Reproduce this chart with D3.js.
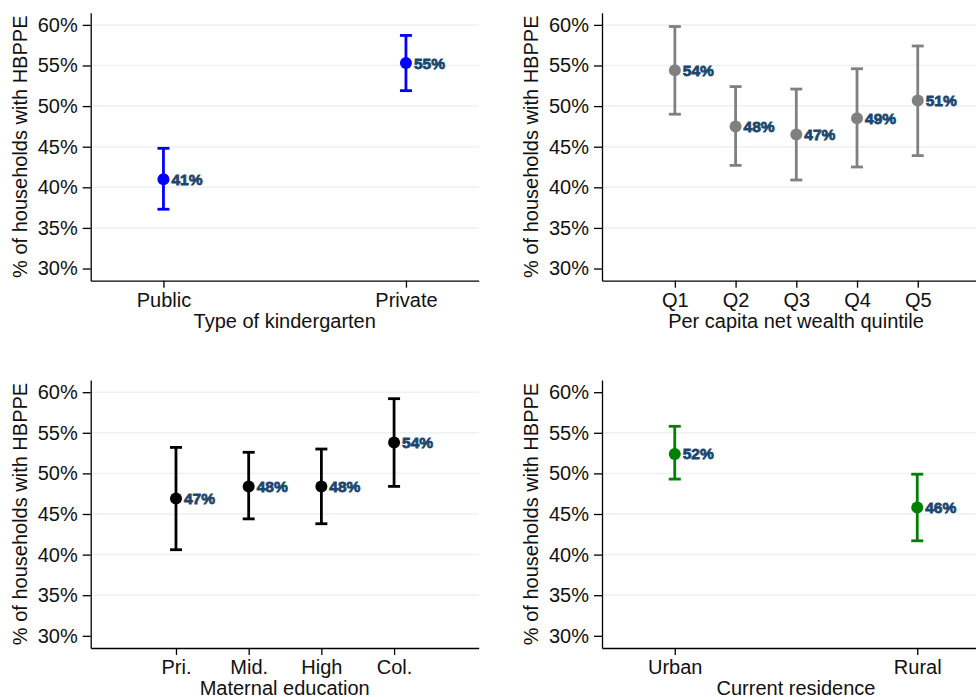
<!DOCTYPE html>
<html>
<head>
<meta charset="utf-8">
<script src="https://cdn.jsdelivr.net/npm/d3@7"></script>
<style>
  body { margin: 0; background: #fff; }
  svg { display: block; font-family: "Liberation Sans", Arial, sans-serif; }
</style>
</head>
<body>
<svg id="chart" width="976" height="697"></svg>
<script>
// data
const yTicks = [30, 35, 40, 45, 50, 55, 60];

const kgCats = ['Public', 'Private'];
const kgMean = [41.0, 55.3];
const kgLo = [37.3, 51.9];
const kgHi = [44.8, 58.7];

const wealthCats = ['Q1', 'Q2', 'Q3', 'Q4', 'Q5'];
const wealthMean = [54.4, 47.5, 46.5, 48.5, 50.7];
const wealthLo = [49.0, 42.7, 40.9, 42.5, 43.9];
const wealthHi = [59.8, 52.4, 52.1, 54.6, 57.4];

const eduCats = ['Pri.', 'Mid.', 'High', 'Col.'];
const eduMean = [46.9, 48.4, 48.4, 53.8];
const eduLo = [40.6, 44.4, 43.8, 48.4];
const eduHi = [53.2, 52.6, 53.0, 59.2];

const resCats = ['Urban', 'Rural'];
const resMean = [52.4, 45.8];
const resLo = [49.3, 41.7];
const resHi = [55.8, 49.9];

// layout
const W = 388, H = 268;
const labelColor = '#1a476f';
const fontSize = 20;

const panels = [
  { x: 90.7, y: 12.7, cats: kgCats, mean: kgMean, lo: kgLo, hi: kgHi, color: '#0000ff',
    xDomain: [0.7, 2.3], title: 'Type of kindergarten', grid: [35, 40, 45, 50, 55, 60] },
  { x: 602, y: 12.7, cats: wealthCats, mean: wealthMean, lo: wealthLo, hi: wealthHi, color: '#808080',
    xDomain: [-0.2, 6.19], title: 'Per capita net wealth quintile', grid: [35, 40, 45, 50, 55, 60] },
  { x: 90.7, y: 380, cats: eduCats, mean: eduMean, lo: eduLo, hi: eduHi, color: '#000000',
    xDomain: [-0.173, 5.164], title: 'Maternal education', grid: [35, 40, 45, 50, 55, 60] },
  { x: 602, y: 380, cats: resCats, mean: resMean, lo: resLo, hi: resHi, color: '#008000',
    xDomain: [0.7, 2.3], title: 'Current residence', grid: [35, 40, 45, 50, 55] }
];

const svg = d3.select('#chart');

panels.forEach(function (p) {
  const g = svg.append('g').attr('transform', 'translate(' + p.x + ',' + p.y + ')');

  const x = d3.scaleLinear().domain(p.xDomain).range([0, W]);
  const y = d3.scaleLinear().domain([28.5, 61.5]).range([H, 0]);

  // gridlines
  g.selectAll('line.grid')
    .data(p.grid)
    .enter()
    .append('line')
    .attr('class', 'grid')
    .attr('x1', 1).attr('x2', W)
    .attr('y1', d => y(d)).attr('y2', d => y(d))
    .attr('stroke', '#eaf2f3')
    .attr('stroke-width', 1.5);

  // y axis
  const yAxis = g.append('g')
    .call(d3.axisLeft(y).tickValues(yTicks).tickFormat(d => d + '%').tickSize(8).tickSizeOuter(0).tickPadding(5));
  // x axis
  const idx = p.cats.map((c, i) => i + 1);
  const xAxis = g.append('g')
    .attr('transform', 'translate(0,' + H + ')')
    .call(d3.axisBottom(x).tickValues(idx).tickFormat((d, i) => p.cats[i]).tickSize(7).tickSizeOuter(0).tickPadding(5));

  [yAxis, xAxis].forEach(function (a) {
    a.select('.domain').attr('stroke', '#000').attr('stroke-width', 1.3);
    a.selectAll('.tick line').attr('stroke', '#000').attr('stroke-width', 1.3);
    a.selectAll('.tick text')
      .attr('font-size', fontSize)
      .attr('font-family', '"Liberation Sans", Arial, sans-serif')
      .attr('fill', '#111');
  });

  // axis titles
  g.append('text')
    .attr('transform', 'translate(' + (-70.7) + ',' + H / 2 + ') rotate(-90)')
    .attr('text-anchor', 'middle')
    .attr('dy', '0.35em')
    .attr('font-size', fontSize)
    .attr('fill', '#111')
    .text('% of households with HBPPE');

  g.append('text')
    .attr('x', W / 2)
    .attr('y', H + 47)
    .attr('text-anchor', 'middle')
    .attr('font-size', fontSize)
    .attr('fill', '#111')
    .text(p.title);

  const pts = p.cats.map((c, i) => ({ i: i + 1, m: p.mean[i], lo: p.lo[i], hi: p.hi[i] }));

  // error bars
  g.selectAll('line.bar')
    .data(pts)
    .enter()
    .append('line')
    .attr('x1', d => x(d.i)).attr('x2', d => x(d.i))
    .attr('y1', d => y(d.lo)).attr('y2', d => y(d.hi))
    .attr('stroke', p.color)
    .attr('stroke-width', 2.8);

  ['lo', 'hi'].forEach(function (k) {
    g.selectAll('line.cap' + k)
      .data(pts)
      .enter()
      .append('line')
      .attr('x1', d => x(d.i) - 6).attr('x2', d => x(d.i) + 6)
      .attr('y1', d => y(d[k])).attr('y2', d => y(d[k]))
      .attr('stroke', p.color)
      .attr('stroke-width', 2.8);
  });

  // markers
  g.selectAll('circle')
    .data(pts)
    .enter()
    .append('circle')
    .attr('cx', d => x(d.i))
    .attr('cy', d => y(d.m))
    .attr('r', 6)
    .attr('fill', p.color);

  // value labels
  g.selectAll('text.val')
    .data(pts)
    .enter()
    .append('text')
    .attr('class', 'val')
    .attr('x', d => x(d.i) + 8)
    .attr('y', d => y(d.m))
    .attr('dy', '0.36em')
    .attr('font-size', 15.5)
    .attr('font-weight', 'bold')
    .attr('fill', labelColor)
    .attr('stroke', labelColor)
    .attr('stroke-width', 0.8)
    .text(d => Math.round(d.m) + '%');
});
</script>
</body>
</html>
